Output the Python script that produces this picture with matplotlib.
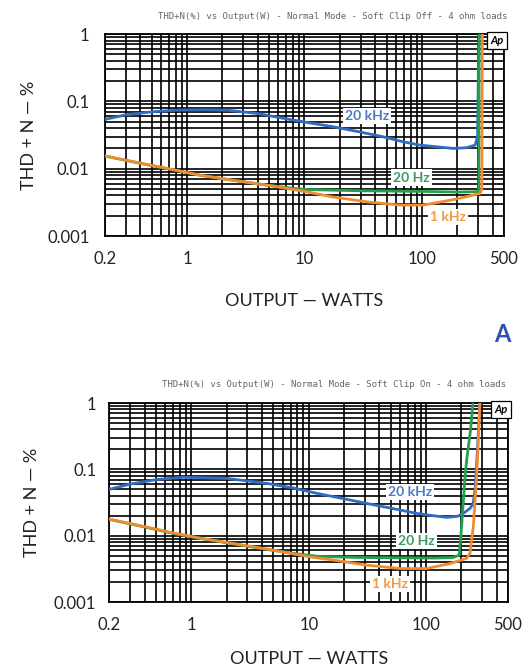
import matplotlib
matplotlib.use("Agg")
import matplotlib.pyplot as plt
from matplotlib.ticker import LogLocator, FixedLocator, FixedFormatter, NullFormatter

plt.rcParams['font.family'] = ['Lato', 'DejaVu Sans']

# ---- data (watts, THD+N %) ----
# panel 1: soft clip off
off_20k_w = [0.2, 0.3, 0.5, 0.82, 1.4, 2.2, 4, 6.6, 11, 17.5, 30, 46.6, 70, 96, 140, 185, 240, 284, 298, 306]
off_20k_thd = [0.054, 0.063, 0.070, 0.074, 0.075, 0.074, 0.066, 0.056, 0.048, 0.042, 0.035, 0.0298,
               0.025, 0.0224, 0.021, 0.020, 0.0205, 0.0224, 0.03, 1.5]
off_20_w = [0.2, 0.4, 0.7, 1.29, 2.5, 4.8, 8, 10.5, 30, 100, 200, 295, 305, 308]
off_20_thd = [0.0154, 0.0120, 0.0099, 0.0080, 0.0067, 0.0057, 0.0051, 0.0049, 0.0047, 0.0046,
              0.0045, 0.00455, 0.0048, 1.5]
off_1k_w = [0.2, 0.4, 0.7, 1.29, 2.5, 4.8, 10, 17.5, 35, 65, 102, 174, 250, 313, 324, 327]
off_1k_thd = [0.0155, 0.0121, 0.0100, 0.0080, 0.0067, 0.0057, 0.0046, 0.0038, 0.0032, 0.00288,
              0.00288, 0.0034, 0.0039, 0.0043, 0.0050, 1.5]

# panel 2: soft clip on
on_20k_w = [0.2, 0.3, 0.5, 0.85, 2.0, 4.4, 7.5, 11.7, 20, 31, 50, 83, 115, 150, 185, 208, 237, 252, 262, 272, 288, 295]
on_20k_thd = [0.050, 0.060, 0.070, 0.076, 0.073, 0.0615, 0.052, 0.0435, 0.036, 0.0307, 0.026,
              0.0217, 0.020, 0.0189, 0.0196, 0.0217, 0.0258, 0.03, 0.05, 0.15, 1.0, 1.5]
on_20_w = [0.2, 0.4, 0.7, 1.18, 2.4, 4.4, 7.5, 11.7, 25, 60, 120, 171, 192, 201, 215, 222, 240, 251, 255]
on_20_thd = [0.0176, 0.0135, 0.0108, 0.0091, 0.0074, 0.0062, 0.0054, 0.0049, 0.0047, 0.00464,
             0.0046, 0.0047, 0.0051, 0.0136, 0.077, 0.138, 0.4, 1.0, 1.5]
on_1k_w = [0.2, 0.4, 0.7, 1.18, 2.4, 4.4, 7.5, 11, 16.2, 31, 60, 101, 160, 222, 237, 253, 270, 280, 288, 293]
on_1k_thd = [0.0178, 0.0137, 0.0110, 0.0092, 0.0075, 0.0063, 0.0053, 0.0047, 0.0043, 0.0036,
             0.0032, 0.0032, 0.0038, 0.00455, 0.0054, 0.0136, 0.077, 0.3, 1.0, 1.5]

x_ticks = [0.2, 1, 10, 100, 500]
x_ticklabels = ['0.2', '1', '10', '100', '500']
y_ticks = [0.001, 0.01, 0.1, 1]
y_ticklabels = ['0.001', '0.01', '0.1', '1']

titles = ['THD+N(%) vs Output(W) - Normal Mode - Soft Clip Off - 4 ohm loads',
          'THD+N(%) vs Output(W) - Normal Mode - Soft Clip On - 4 ohm loads']

BLUE = '#2f6cc4'
GREEN = '#23a04c'
ORANGE = '#f28b2f'


def setup_axes(ax, ypad):
    ax.set_xscale('log')
    ax.set_yscale('log')
    ax.set_xlim(0.2, 500)
    ax.set_ylim(0.001, 1)
    ax.xaxis.set_major_locator(FixedLocator(x_ticks))
    ax.xaxis.set_major_formatter(FixedFormatter(x_ticklabels))
    ax.xaxis.set_minor_locator(LogLocator(base=10, subs=range(2, 10)))
    ax.xaxis.set_minor_formatter(NullFormatter())
    ax.yaxis.set_major_locator(FixedLocator(y_ticks))
    ax.yaxis.set_major_formatter(FixedFormatter(y_ticklabels))
    ax.yaxis.set_minor_locator(LogLocator(base=10, subs=range(2, 10)))
    ax.yaxis.set_minor_formatter(NullFormatter())
    ax.grid(True, which='both', color='black', lw=1.2)
    ax.tick_params(which='both', length=0, labelsize=12, labelcolor='#222222')
    ax.tick_params(axis='x', pad=10.5)
    ax.tick_params(axis='y', pad=ypad)
    for s in ax.spines.values():
        s.set_linewidth(1.3)
    ax.set_axisbelow(True)
    ax.text(0.999, 0.995, 'Ap', transform=ax.transAxes, ha='right', va='top',
            fontsize=8, fontweight='bold', style='italic', zorder=6,
            bbox=dict(boxstyle='square,pad=0.3', fc='white', ec='black', lw=0.9))
    ax.set_xlabel('OUTPUT — WATTS', fontsize=13, color='#222222', va='center')
    ax.set_ylabel('THD + N — %', fontsize=13, color='#222222', va='center')


def curve_label(ax, x, y, text, color):
    ax.text(x, y, text, color=color, fontsize=10, fontweight='bold', ha='center', va='center',
            zorder=5, bbox=dict(boxstyle='square,pad=0.15', fc='white', ec='none'))


fig = plt.figure(figsize=(5.31, 6.69), dpi=100)
ax1 = fig.add_axes([0.1977, 0.6472, 0.7514, 0.3019])
ax2 = fig.add_axes([0.2062, 0.1001, 0.7505, 0.2975])

# top: soft clip off
setup_axes(ax1, 11)
ax1.plot(off_20k_w, off_20k_thd, color=BLUE, lw=2, zorder=3)
ax1.plot(off_20_w, off_20_thd, color=GREEN, lw=2, zorder=3)
ax1.plot(off_1k_w, off_1k_thd, color=ORANGE, lw=2, zorder=3)
curve_label(ax1, 34, 0.0605, '20 kHz', '#4a7cc0')
curve_label(ax1, 82, 0.0074, '20 Hz', '#3c9a60')
curve_label(ax1, 168, 0.00193, '1 kHz', '#f29a40')
ax1.xaxis.set_label_coords(0.5, -0.322)
ax1.yaxis.set_label_coords(-0.19, 0.5)

# bottom: soft clip on
setup_axes(ax2, 9.5)
ax2.plot(on_20k_w, on_20k_thd, color=BLUE, lw=2, zorder=3)
ax2.plot(on_20_w, on_20_thd, color=GREEN, lw=2, zorder=3)
ax2.plot(on_1k_w, on_1k_thd, color=ORANGE, lw=2, zorder=3)
curve_label(ax2, 73, 0.046, '20 kHz', '#4a7cc0')
curve_label(ax2, 83, 0.0084, '20 Hz', '#3c9a60')
curve_label(ax2, 49, 0.00186, '1 kHz', '#f29a40')
ax2.xaxis.set_label_coords(0.5, -0.288)
ax2.yaxis.set_label_coords(-0.194, 0.5)

fig.text(0.955, 1 - 16.3 / 669, titles[0], ha='right', va='center', fontsize=6.5,
         family='DejaVu Sans Mono', color='#666666')
fig.text(0.952, 1 - 384.4 / 669, titles[1], ha='right', va='center', fontsize=6.5,
         family='DejaVu Sans Mono', color='#666666')
fig.text(502 / 531, 1 - 335 / 669, 'A', ha='center', va='center', fontsize=17,
         fontweight='bold', color='#2a4fb0')

fig.savefig('out.png', dpi=100)
